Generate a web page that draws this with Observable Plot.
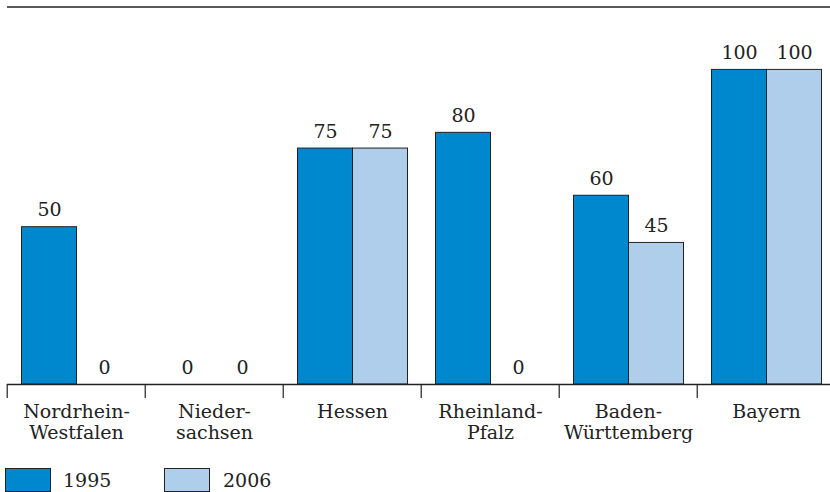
<!DOCTYPE html>
<html>
<head>
<meta charset="utf-8">
<script src="https://cdn.jsdelivr.net/npm/d3@7"></script>
<script src="https://cdn.jsdelivr.net/npm/@observablehq/plot@0.6"></script>
<style>
  html, body { margin: 0; padding: 0; background: #fff; }
  #chart svg { display: block; overflow: visible; }
  #legend { position: relative; height: 40px; font-family: "DejaVu Serif", serif; font-size: 19px; color: #222; }
  .sw { position: absolute; top: 16px; width: 44px; height: 22px; border: 1px solid #222; box-sizing: content-box; }
  .lb { position: absolute; top: 14px; line-height: 28px; }
</style>
</head>
<body>
<div id="chart"></div>
<div id="legend"></div>
<script>
const states = ["Nordrhein-Westfalen", "Niedersachsen", "Hessen", "Rheinland-Pfalz", "Baden-Württemberg", "Bayern"];
const stateLabels = ["Nordrhein-\nWestfalen", "Nieder-\nsachsen", "Hessen", "Rheinland-\nPfalz", "Baden-\nWürttemberg", "Bayern"];
const years = ["1995", "2006"];
const values1995 = [50, 0, 75, 80, 60, 100];
const values2006 = [0, 0, 75, 0, 45, 100];
const colors = ["#0088cf", "#afceec"];
const ink = "#222";
const serif = "DejaVu Serif, serif";

const data = states.flatMap((s, i) => [
  {state: s, year: years[0], value: values1995[i]},
  {state: s, year: years[1], value: values2006[i]}
]);
const labelData = states.map((s, i) => ({state: s, label: stateLabels[i]}));

const W = 830, H = 452, ML = 5.5, MR = -6.9;
const bandW = (W - ML - MR) / states.length;

const chart = Plot.plot({
  width: W,
  height: H,
  marginLeft: ML,
  marginRight: MR,
  marginTop: 6.5,
  marginBottom: 68,
  style: {color: ink, background: "#fff", overflow: "visible", fontFamily: serif},
  fx: {domain: states, paddingInner: 0, paddingOuter: 0, axis: null, label: null},
  x: {domain: years, paddingInner: 0, paddingOuter: 0.24, axis: null, label: null},
  y: {domain: [0, 120], axis: null, label: null},
  color: {domain: years, range: colors},
  marks: [
    Plot.barY(data, {fx: "state", x: "year", y: "value", fill: "year", stroke: ink, strokeWidth: 1}),
    Plot.ruleY([0], {stroke: ink, strokeWidth: 1.4}),
    Plot.ruleY([120], {stroke: ink, strokeWidth: 1.4}),
    Plot.axisY({ticks: [], tickSize: 0, line: true, label: null, stroke: ink, strokeWidth: 1.4}),
    Plot.axisFx({anchor: "bottom", tickSize: 14, text: null, label: null, dx: -bandW / 2, stroke: ink, strokeWidth: 1.2}),
    Plot.text(data, {fx: "state", x: "year", y: "value", text: d => String(d.value), lineAnchor: "bottom", dy: -11, fontSize: 19, fontFamily: serif, fill: ink}),
    Plot.text(labelData, {fx: "state", text: "label", frameAnchor: "bottom", lineAnchor: "top", dy: 19, fontSize: 19, fontFamily: serif, lineHeight: 1.1, fill: ink})
  ]
});
document.getElementById("chart").appendChild(chart);

const legend = document.getElementById("legend");
const swLeft = [5, 164];
const lbLeft = [63, 223];
years.forEach((y, i) => {
  const sw = document.createElement("div");
  sw.className = "sw";
  sw.style.left = swLeft[i] + "px";
  sw.style.background = colors[i];
  legend.appendChild(sw);
  const lb = document.createElement("div");
  lb.className = "lb";
  lb.style.left = lbLeft[i] + "px";
  lb.textContent = y;
  legend.appendChild(lb);
});
</script>
</body>
</html>
